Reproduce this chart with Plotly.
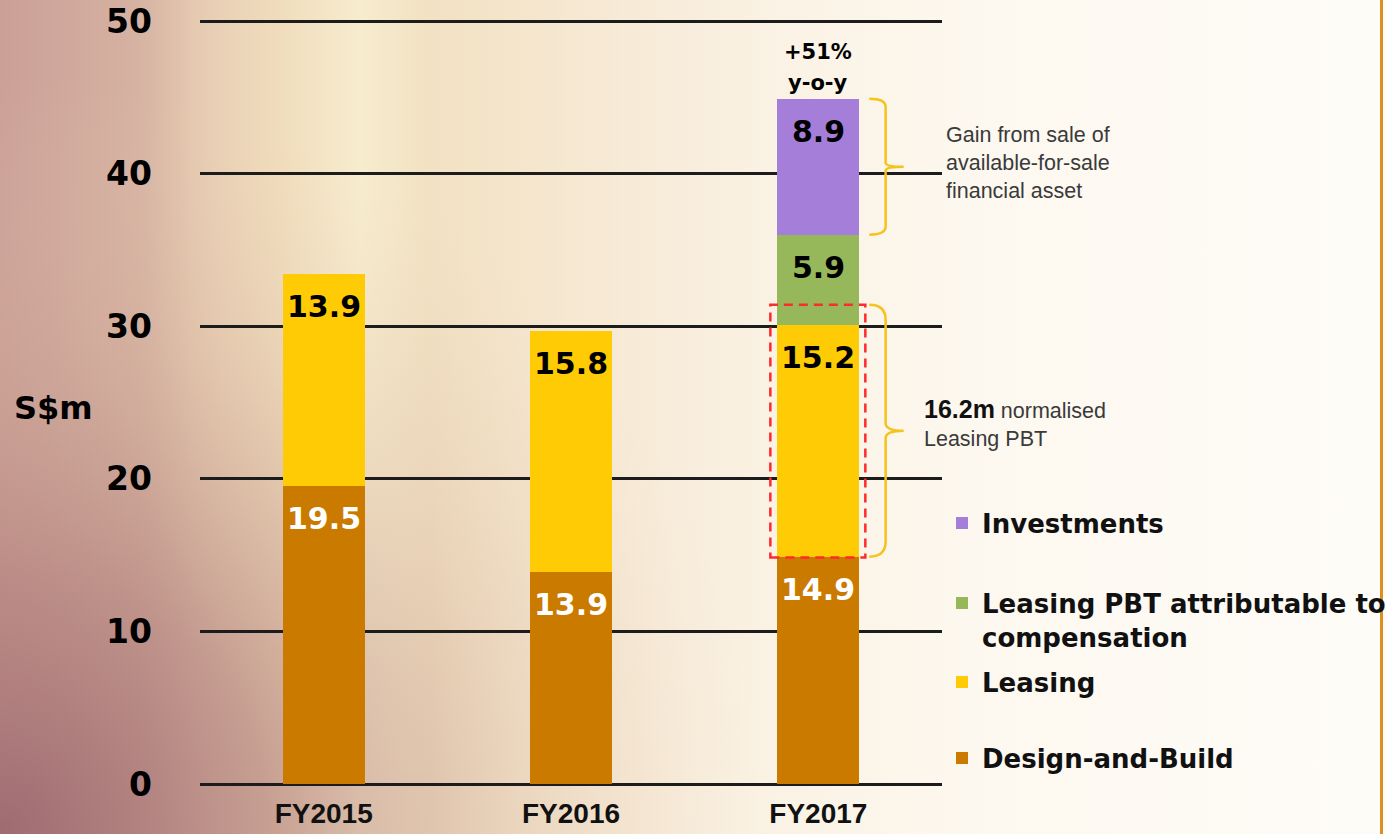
import base64
import plotly.graph_objects as go

# ---- data -------------------------------------------------------------
categories = ["FY2015", "FY2016", "FY2017"]
design_build = [19.5, 13.9, 14.9]
leasing = [13.9, 15.8, 15.2]
leasing_comp = [None, None, 5.9]
investments = [None, None, 8.9]
normalised_leasing = 16.2
yoy_pct = "+51%"
yoy_sub = "y-o-y"
y_ticks = [0, 10, 20, 30, 40, 50]

series = [
    ("Design-and-Build", design_build, "#cb7a00", "white", "legend4"),
    ("Leasing", leasing, "#ffcb05", "black", "legend3"),
    ("Leasing PBT attributable to<br>compensation", leasing_comp, "#97b75b", "black", "legend2"),
    ("Investments", investments, "#a47ed8", "black", "legend"),
]

W, H = 1386, 834
Y_MAX = 50.2
ML, MR, MT, MB = 200, 444, 18, 50
PW, PH = W - ML - MR, H - MT - MB

BOLD = "DejaVu Sans"
ARIAL = "Liberation Sans, Arial, sans-serif"

# ---- slide-style background ----------------------------------------
svg = f"""<svg xmlns='http://www.w3.org/2000/svg' width='{W}' height='{H}' viewBox='0 0 {W} {H}' preserveAspectRatio='none'>
<defs>
<linearGradient id='h' x1='0' y1='0' x2='1' y2='0'>
<stop offset='0' stop-color='#cfa69c'/>
<stop offset='0.10' stop-color='#d9b7a5'/>
<stop offset='0.14' stop-color='#e7ccb3'/>
<stop offset='0.20' stop-color='#f0dcbc'/>
<stop offset='0.26' stop-color='#f7ecce'/>
<stop offset='0.31' stop-color='#f2e1c3'/>
<stop offset='0.45' stop-color='#f7ead6'/>
<stop offset='0.56' stop-color='#faf2e4'/>
<stop offset='0.70' stop-color='#fdf8ef'/>
<stop offset='1' stop-color='#fefcf8'/>
</linearGradient>
<radialGradient id='r' gradientUnits='userSpaceOnUse' cx='0' cy='{H}' r='760'>
<stop offset='0' stop-color='#9c6870' stop-opacity='0.95'/>
<stop offset='0.35' stop-color='#b58580' stop-opacity='0.7'/>
<stop offset='0.7' stop-color='#d2ad9a' stop-opacity='0.25'/>
<stop offset='1' stop-color='#e8cfb5' stop-opacity='0'/>
</radialGradient>
<linearGradient id='l' x1='0' y1='0' x2='1' y2='0'>
<stop offset='0' stop-color='#c99c94' stop-opacity='0.6'/>
<stop offset='0.1' stop-color='#d0aa9c' stop-opacity='0.35'/>
<stop offset='0.16' stop-color='#d8b8a5' stop-opacity='0'/>
</linearGradient>
</defs>
<rect width='{W}' height='{H}' fill='url(#h)'/>
<rect width='{W}' height='{H}' fill='url(#l)'/>
<rect width='{W}' height='{H}' fill='url(#r)'/>
</svg>"""
bg_uri = "data:image/svg+xml;base64," + base64.b64encode(svg.encode()).decode()

fig = go.Figure()

x_idx = list(range(len(categories)))
for name, vals, color, _, legend_id in series:
    fig.add_trace(go.Bar(
        x=x_idx, y=vals, name=name, marker=dict(color=color, line=dict(width=0)),
        legend=legend_id, hoverinfo="skip",
    ))

# value labels just under the top edge of each segment
annotations = []
cum = [0.0] * len(categories)
for name, vals, color, txt_color, _ in series:
    for i, v in enumerate(vals):
        if v is None:
            continue
        cum[i] += v
        annotations.append(dict(
            x=i, y=cum[i], xref="x", yref="y", text=f"{v:.1f}", showarrow=False,
            yanchor="top", yshift=-13,
            font=dict(family=BOLD, size=30, color=txt_color, weight="bold"),
        ))

total_2017 = cum[2]
base_2017 = design_build[2]
comp_top = design_build[2] + leasing[2] + leasing_comp[2]

# growth call-out above the FY2017 bar
for txt, shift in ((yoy_sub, 2), (yoy_pct, 33)):
    annotations.append(dict(
        x=2, y=total_2017, xref="x", yref="y", text=txt, showarrow=False,
        yanchor="bottom", yshift=shift,
        font=dict(family=BOLD, size=21, color="black", weight="bold"),
    ))

# brackets to the right of FY2017
bx0, bx1, btip = 2.206, 2.272, 2.345
brace_color = "#f6c21c"


def brace(y_bot, y_top):
    r = (y_top - y_bot) * 0.06
    ym = (y_top + y_bot) / 2
    return (f"M {bx0},{y_top} Q {bx1},{y_top} {bx1},{y_top - r} "
            f"L {bx1},{ym + r * 0.5} Q {bx1},{ym} {btip},{ym} "
            f"Q {bx1},{ym} {bx1},{ym - r * 0.5} "
            f"L {bx1},{y_bot + r} Q {bx1},{y_bot} {bx0},{y_bot}")


pad = 0.3
norm_top = base_2017 + normalised_leasing + pad
shapes = [
    dict(type="path", xref="x", yref="y", path=brace(comp_top, total_2017),
         line=dict(color=brace_color, width=2.5)),
    dict(type="path", xref="x", yref="y", path=brace(base_2017, norm_top),
         line=dict(color=brace_color, width=2.5)),
    dict(type="rect", xref="x", yref="y", x0=1.806, x1=2.19, y0=base_2017 - 0.05, y1=norm_top,
         line=dict(color="#ff2a2a", width=2.5, dash="9px,6px")),
    # orange slide edge
    dict(type="line", xref="paper", yref="paper",
         x0=(1381.5 - ML) / PW, x1=(1381.5 - ML) / PW, y0=-MB / PH, y1=1 + MT / PH,
         line=dict(color="#dc8e1f", width=3)),
]

annotations.append(dict(
    x=btip, y=(comp_top + total_2017) / 2, xref="x", yref="y", xanchor="left", align="left",
    xshift=40, yshift=4, showarrow=False,
    text="Gain from sale of<br>available-for-sale<br>financial asset",
    font=dict(family=ARIAL, size=21.5, color="#3a3a3a"),
))
annotations.append(dict(
    x=btip, y=(base_2017 + norm_top) / 2, xref="x", yref="y", xanchor="left", align="left",
    xshift=18, yshift=8, showarrow=False,
    text=(f"<span style='font-size:25px;color:#111111'><b>{normalised_leasing:.1f}m</b></span>"
          " normalised<br>Leasing PBT"),
    font=dict(family=ARIAL, size=21.5, color="#3a3a3a"),
))
annotations.append(dict(
    x=(12 - ML) / PW, y=(H - MB - 408) / PH, xref="paper", yref="paper",
    xanchor="left", yanchor="middle", text="S$m", showarrow=False,
    font=dict(family=BOLD, size=32, color="black", weight="bold"),
))

legend_style = dict(
    xref="container", yref="container", x=942 / W, xanchor="left", yanchor="middle",
    bgcolor="rgba(0,0,0,0)", borderwidth=0,
    font=dict(family=BOLD, size=26, color="#111111", weight="bold"),
)

fig.update_layout(
    width=W, height=H,
    margin=dict(l=ML, r=MR, t=MT, b=MB, pad=0, autoexpand=False),
    barmode="stack", bargap=1 - 0.332,
    paper_bgcolor="#f6e9d6", plot_bgcolor="rgba(0,0,0,0)",
    showlegend=True,
    legend=dict(**legend_style, y=1 - 523 / H),
    legend2=dict(**legend_style, y=1 - 620 / H, valign="top"),
    legend3=dict(**legend_style, y=1 - 682 / H),
    legend4=dict(**legend_style, y=1 - 758 / H),
    xaxis=dict(
        range=[-0.5, 2.5], tickvals=x_idx, ticktext=categories, showgrid=False,
        zeroline=False, showline=False, ticks="", ticklabelstandoff=10,
        tickfont=dict(family=ARIAL, size=28, color="#111111", weight="bold"),
    ),
    yaxis=dict(
        range=[0, Y_MAX], tickvals=y_ticks, showgrid=True, gridcolor="#1c1c1c", gridwidth=3,
        zeroline=True, zerolinecolor="#1c1c1c", zerolinewidth=3, showline=False, ticks="",
        ticklabelstandoff=47,
        tickfont=dict(family=BOLD, size=33, color="black", weight="bold"),
    ),
    images=[dict(
        source=bg_uri, xref="paper", yref="paper", x=-ML / PW, y=1 + MT / PH,
        sizex=W / PW, sizey=H / PH, sizing="stretch", layer="below", xanchor="left", yanchor="top",
    )],
    shapes=shapes,
    annotations=annotations,
)

fig.write_html(
    "out.html",
    post_script="document.body.style.margin='0';document.body.style.overflow='hidden';",
)
